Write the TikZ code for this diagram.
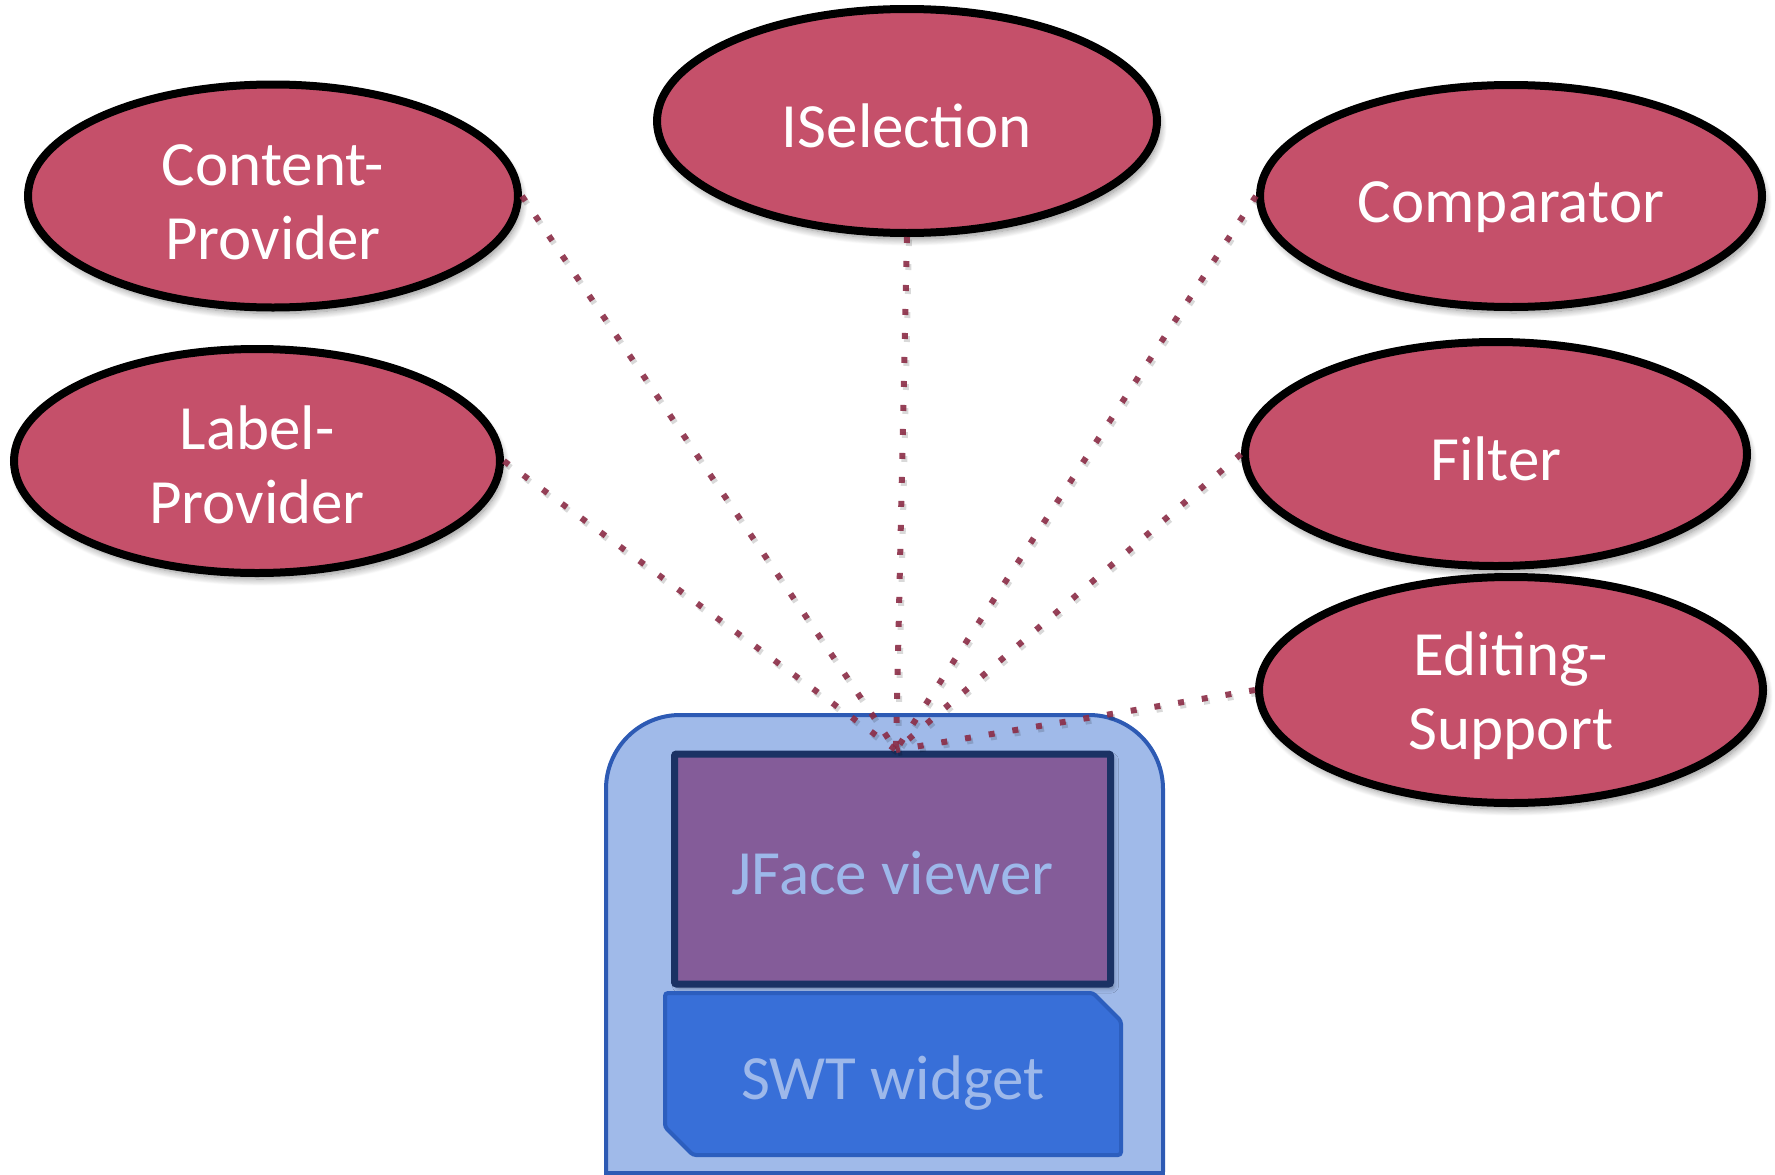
\documentclass[tikz,border=0pt]{standalone}
\usepackage{fontspec}
\setmainfont{Carlito}
\usetikzlibrary{shapes.geometric,shadows.blur}

\definecolor{ovalfill}{RGB}{197,80,106}
\definecolor{linkred}{RGB}{139,44,70}
\definecolor{holderfill}{RGB}{160,186,233}
\definecolor{holderline}{RGB}{45,90,180}
\definecolor{viewerfill}{RGB}{132,92,153}
\definecolor{viewerline}{RGB}{27,50,100}
\definecolor{widgetfill}{RGB}{56,111,216}
\definecolor{widgetline}{RGB}{44,94,190}
\definecolor{boxtext}{RGB}{157,184,234}

\tikzset{
  oval/.style={ellipse, draw=black, line width=8pt, fill=ovalfill, inner sep=0pt,
    blur shadow={shadow xshift=3pt, shadow yshift=-6pt, shadow blur radius=7pt,
      shadow blur steps=12, shadow opacity=45}},
  ovaltext/.style={text=white, align=center, font=\fontsize{63}{74}\selectfont},
  link/.style={draw=linkred, line width=6pt, dash pattern=on 6pt off 18pt, opacity=0.9},
  linkshade/.style={draw=black, line width=6pt, dash pattern=on 6pt off 18pt, opacity=0.15,
    transform canvas={xshift=2pt, yshift=-3pt}},
  viewerbox/.style={rectangle, draw=viewerline, line width=7pt, fill=viewerfill,
    rounded corners=2pt, minimum width=436pt, minimum height=230pt, inner sep=0pt,
    blur shadow={shadow xshift=3pt, shadow yshift=-4pt, shadow blur radius=5pt,
      shadow opacity=35}},
  labeltext/.style={text=boxtext, font=\fontsize{63}{74}\selectfont}
}

\begin{document}
\begin{tikzpicture}[x=1pt, y=-1pt]
\useasboundingbox (0,0) rectangle (1775,1175);

% holder with rounded top corners, cut off at the bottom
\begin{scope}
  \clip (590,700) rectangle (1180,1171);
  \draw[fill=holderfill, draw=holderline, line width=4pt, rounded corners=74pt]
    (606,715) rectangle (1163,1320);
\end{scope}
\draw[holderline, line width=4pt] (604,1173) -- (1165,1173);

% JFace viewer box
\node[viewerbox, label={[labeltext, yshift=-4pt]center:JFace viewer}] (jface) at (892.5,869) {};

% SWT widget with two cut corners
\draw[fill=widgetfill, draw=widgetline, line width=4pt, rounded corners=3pt]
  (665,993) -- (1093,993) -- (1121,1021) -- (1121,1155) -- (693,1155) -- (665,1127) -- cycle;
\node[labeltext] (swt) at (893,1083) {SWT widget};

% provider ovals
\node[oval, minimum width=490pt, minimum height=223pt,
  label={[ovaltext, yshift=-6pt]center:Content-\\Provider}] (cp) at (273,196) {};
\node[oval, minimum width=500pt, minimum height=224pt,
  label={[ovaltext, yshift=-5pt]center:ISelection}] (isel) at (907,121) {};
\node[oval, minimum width=502pt, minimum height=222pt,
  label={[ovaltext, yshift=-11pt]center:Comparator}] (comp) at (1511,196) {};
\node[oval, minimum width=486pt, minimum height=224pt,
  label={[ovaltext, yshift=-4pt]center:Label-\\Provider}] (lp) at (257,461) {};
\node[oval, minimum width=502pt, minimum height=224pt,
  label={[ovaltext, yshift=-5pt]center:Filter}] (filt) at (1496,454) {};
\node[oval, minimum width=504pt, minimum height=226pt,
  label={[ovaltext, yshift=-6pt]center:Editing-\\Support}] (edit) at (1511,690) {};

% dotted links meeting at the top of the viewer
\coordinate (hub) at (896,750);
\foreach \src in {cp.east, lp.east, isel.south, comp.west, filt.west, edit.west} {
  \draw[linkshade] (\src) -- (hub);
  \draw[link] (\src) -- (hub);
}
\end{tikzpicture}
\end{document}
